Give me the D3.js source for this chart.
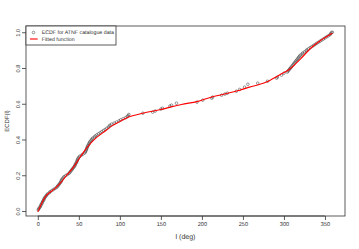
<!DOCTYPE html>
<html>
<head>
<meta charset="utf-8">
<script src="https://cdn.jsdelivr.net/npm/d3@7"></script>
<style>
  body { margin: 0; background: #fff; }
  svg { display: block; font-family: "Liberation Sans", Arial, sans-serif; }
  text { text-rendering: geometricPrecision; -webkit-font-smoothing: antialiased; }
</style>
</head>
<body>
<svg id="chart" width="359" height="249"></svg>
<script>
// ECDF points: galactic longitude (deg) and ECDF value
const ecdfL = [0.5, 1, 2, 3, 3.5, 4, 5, 5.5, 6, 7, 7.5, 8, 9, 10,
  11, 12, 14, 15, 17, 19, 21, 23, 24, 25, 26, 27,
  28, 28.5, 29, 30, 31,
  32, 34, 36, 38, 39, 40,
  41, 42, 43, 44, 45, 45.5, 46, 47, 47.5, 48, 48.5, 49, 50,
  51, 53, 55, 57,
  58, 58.5, 59, 59.5, 60, 60.5, 61, 62, 62.5, 63, 64,
  65, 66, 67, 69, 70, 72, 74, 76, 78, 80,
  82, 84, 86, 87, 88, 90, 93, 96, 99, 101, 104, 107, 109, 110, 111,
  128, 140, 143, 150, 152, 161, 163, 169, 194, 201, 212, 213, 224, 228, 231,
  242, 246, 252, 256, 268, 280, 291, 292, 297, 300, 304,
  305, 306, 307, 308, 309, 310, 311, 312, 313, 314, 315, 316, 317, 318, 319,
  320, 322, 323, 325, 327, 328, 330, 332, 334, 336, 338, 340, 342, 344, 346,
  348, 350, 352, 354, 356, 357, 358, 359];
const ecdfF = [0.006, 0.012, 0.018, 0.024, 0.030, 0.036, 0.042, 0.048, 0.054, 0.060, 0.066, 0.072, 0.078, 0.084,
  0.090, 0.096, 0.102, 0.108, 0.114, 0.120, 0.126, 0.132, 0.138, 0.144, 0.150, 0.156,
  0.162, 0.168, 0.174, 0.180, 0.186,
  0.192, 0.198, 0.204, 0.210, 0.216, 0.222,
  0.228, 0.234, 0.240, 0.246, 0.252, 0.258, 0.264, 0.270, 0.276, 0.282, 0.288, 0.294, 0.300,
  0.306, 0.312, 0.318, 0.324,
  0.330, 0.336, 0.342, 0.348, 0.354, 0.360, 0.366, 0.372, 0.378, 0.384, 0.390,
  0.396, 0.402, 0.408, 0.414, 0.420, 0.426, 0.432, 0.438, 0.444, 0.450,
  0.456, 0.462, 0.468, 0.474, 0.480, 0.486, 0.492, 0.498, 0.504, 0.510, 0.516, 0.522, 0.528, 0.534, 0.540,
  0.547, 0.553, 0.559, 0.570, 0.575, 0.587, 0.592, 0.603, 0.609, 0.620, 0.631, 0.637, 0.648, 0.654, 0.659,
  0.670, 0.680, 0.693, 0.709, 0.715, 0.726, 0.743, 0.749, 0.760, 0.771, 0.777,
  0.783, 0.789, 0.795, 0.800, 0.806, 0.812, 0.818, 0.824, 0.830, 0.836, 0.842, 0.848, 0.854, 0.860, 0.866,
  0.872, 0.878, 0.884, 0.890, 0.896, 0.902, 0.908, 0.914, 0.920, 0.926, 0.932, 0.938, 0.944, 0.950, 0.956,
  0.962, 0.968, 0.974, 0.980, 0.986, 0.992, 0.998, 1.0];

// Fitted function, sampled off the red curve
const fitL = [0, 5, 10, 15, 20, 30, 36, 40, 45, 50, 55, 60, 70, 80, 90, 100, 110, 128, 150, 175, 194, 210,
  225, 246, 258, 278, 294, 306, 315, 320, 334, 345, 359];
const fitF = [-0.005, 0.045, 0.085, 0.105, 0.122, 0.17, 0.205, 0.225, 0.255, 0.29, 0.324, 0.355, 0.405, 0.44,
  0.475, 0.5, 0.525, 0.547, 0.568, 0.596, 0.612, 0.635, 0.652, 0.676, 0.693, 0.72, 0.76, 0.79, 0.827, 0.85,
  0.916, 0.955, 0.994];

const xTicks = [0, 50, 100, 150, 200, 250, 300, 350];
const yTicks = [0, 0.2, 0.4, 0.6, 0.8, 1.0];

const svg = d3.select('#chart');
const box = { left: 26, right: 345, top: 26, bottom: 216 };

// R style: 4% padding round the data range
const x = d3.scaleLinear().domain([-14.4, 374.4]).range([box.left, box.right]);
const y = d3.scaleLinear().domain([-0.028, 1.035]).range([box.bottom, box.top]);

const ink = '#333';
const txt = '#333';

// points
svg.append('g')
  .selectAll('circle')
  .data(ecdfL.map((l, i) => [l, ecdfF[i]]))
  .join('circle')
  .attr('cx', d => x(d[0]))
  .attr('cy', d => y(d[1]))
  .attr('r', 1.3)
  .attr('fill', 'none')
  .attr('stroke', '#444')
  .attr('stroke-width', 0.55);

// fitted curve
const line = d3.line()
  .x(d => x(d[0]))
  .y(d => y(d[1]))
  .curve(d3.curveCatmullRom);

svg.append('path')
  .datum(fitL.map((l, i) => [l, fitF[i]]))
  .attr('d', line)
  .attr('fill', 'none')
  .attr('stroke', '#ff0000')
  .attr('stroke-width', 1.1);

// axes
const xAxis = svg.append('g')
  .attr('transform', `translate(0,${box.bottom})`)
  .call(d3.axisBottom(x).tickValues(xTicks).tickSize(4).tickPadding(2).tickSizeOuter(0));
const yAxis = svg.append('g')
  .attr('transform', `translate(${box.left},0)`)
  .call(d3.axisLeft(y).tickValues(yTicks).tickFormat(d3.format('.1f')).tickSize(4).tickSizeOuter(0));

[xAxis, yAxis].forEach(a => {
  a.select('.domain').remove();
  a.selectAll('line').attr('stroke', ink).attr('stroke-width', 0.8);
  a.selectAll('text').attr('fill', txt).style('font-size', '5.6px');
});
xAxis.selectAll('text').attr('dy', '0.71em');

// y labels rotated, reading bottom to top
yAxis.selectAll('.tick text')
  .attr('text-anchor', 'middle')
  .attr('dy', null)
  .attr('transform', 'rotate(-90)')
  .attr('x', 0)
  .attr('y', -5.6);

// axis line from first to last x tick
svg.append('line')
  .attr('x1', x(0)).attr('x2', x(350))
  .attr('y1', box.bottom).attr('y2', box.bottom)
  .attr('stroke', ink).attr('stroke-width', 0.8);

// plot box
svg.append('rect')
  .attr('x', box.left).attr('y', box.top)
  .attr('width', box.right - box.left).attr('height', box.bottom - box.top)
  .attr('fill', 'none').attr('stroke', ink).attr('stroke-width', 0.8);

// axis titles
svg.append('text')
  .attr('x', (box.left + box.right) / 2).attr('y', 239)
  .attr('text-anchor', 'middle').attr('fill', txt)
  .style('font-size', '7px')
  .text('l (deg)');
svg.append('text')
  .attr('transform', `translate(9,${(box.top + box.bottom) / 2}) rotate(-90)`)
  .attr('text-anchor', 'middle').attr('fill', txt)
  .style('font-size', '6px')
  .text('ECDF(l)');

// legend
const legend = svg.append('g');
legend.append('rect')
  .attr('x', box.left).attr('y', box.top)
  .attr('width', 90).attr('height', 19)
  .attr('fill', '#fff').attr('stroke', ink).attr('stroke-width', 0.8);
legend.append('circle')
  .attr('cx', 33.5).attr('cy', 32.5).attr('r', 1.3)
  .attr('fill', 'none').attr('stroke', '#444').attr('stroke-width', 0.55);
legend.append('line')
  .attr('x1', 30).attr('x2', 37.7).attr('y1', 39).attr('y2', 39)
  .attr('stroke', '#ff0000').attr('stroke-width', 1.1);
legend.selectAll('text.lab')
  .data(['ECDF for ATNF catalogue data', 'Fitted function'])
  .join('text')
  .attr('class', 'lab')
  .attr('x', 41.7)
  .attr('y', (d, i) => 34.3 + i * 6.5)
  .attr('fill', txt)
  .style('font-size', '5.25px')
  .text(d => d);
</script>
</body>
</html>
